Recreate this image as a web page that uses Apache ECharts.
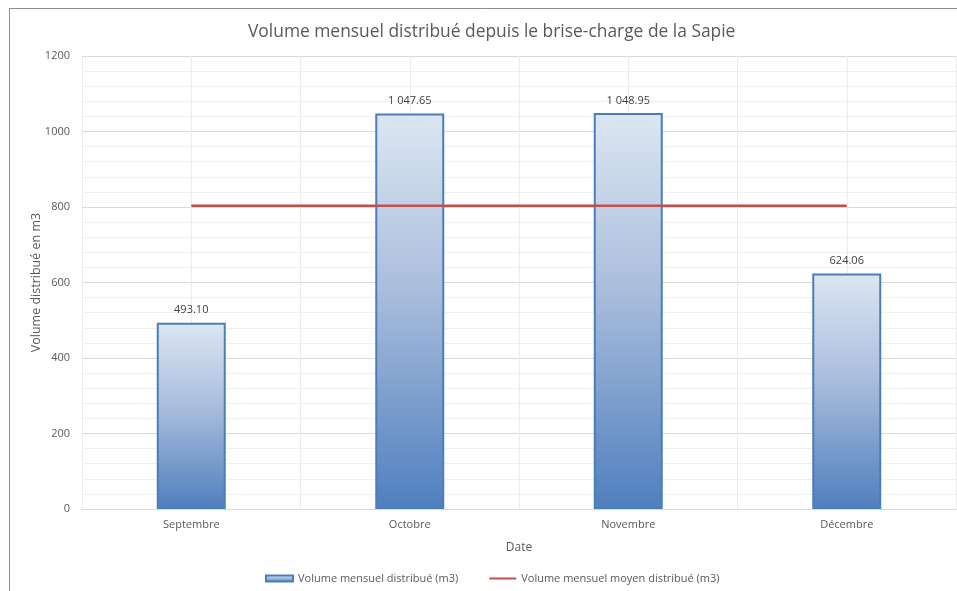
<!DOCTYPE html>
<html>
<head>
<meta charset="utf-8">
<script src="https://cdn.jsdelivr.net/npm/echarts@6/dist/echarts.min.js"></script>
<style>
  html, body { margin: 0; padding: 0; background: #fff; }
  #chart { width: 957px; height: 591px; }
</style>
</head>
<body>
<div id="chart"></div>
<script>
// données
const mois = ["Septembre", "Octobre", "Novembre", "Décembre"];
const volumes = [493.10, 1047.65, 1048.95, 624.06];
const moyenne = [803.44, 803.44, 803.44, 803.44];

const police = "Open Sans";

// format "1 047.65"
function fmt(v) {
  const parts = v.toFixed(2).split(".");
  parts[0] = parts[0].replace(/\B(?=(\d{3})+(?!\d))/g, " ");
  return parts.join(".");
}

const chart = echarts.init(document.getElementById("chart"));
chart.setOption({
  backgroundColor: "#ffffff",
  textStyle: { fontFamily: police, color: "#595959" },
  title: {
    text: "Volume mensuel distribué depuis le brise-charge de la Sapie",
    left: 243,
    top: 19,
    textStyle: { fontFamily: police, fontSize: 17.4, fontWeight: "normal", color: "#595959" }
  },
  graphic: [
    // cadre du graphique (haut et gauche)
    { type: "line", shape: { x1: 9.5, y1: 8.5, x2: 957, y2: 8.5 }, style: { stroke: "#8c8c8c", lineWidth: 1 } },
    { type: "line", shape: { x1: 9.5, y1: 8.5, x2: 9.5, y2: 591 }, style: { stroke: "#8c8c8c", lineWidth: 1 } }
  ],
  grid: { left: 82, right: 1, top: 56, bottom: 82 },
  legend: {
    bottom: 2,
    left: 260,
    itemWidth: 27,
    itemHeight: 6,
    itemGap: 31,
    textStyle: { fontFamily: police, fontSize: 11, color: "#595959" },
    data: [
      { name: "Volume mensuel distribué (m3)", icon: "rect" },
      { name: "Volume mensuel moyen distribué (m3)", icon: "path://M0,0 H27 V2 H0 Z" }
    ]
  },
  xAxis: [
    {
      type: "category",
      data: mois,
      name: "Date",
      nameLocation: "middle",
      nameGap: 33,
      nameTextStyle: { fontFamily: police, fontSize: 12, color: "#595959" },
      axisLine: { lineStyle: { color: "#d9d9d9" } },
      axisTick: { show: false },
      axisLabel: { margin: 10, fontSize: 11, color: "#595959" },
      splitLine: { show: false }
    },
    {
      // axe caché pour les lignes verticales du quadrillage
      type: "value",
      position: "bottom",
      min: 0,
      max: 8,
      interval: 1,
      show: true,
      axisLine: { show: false },
      axisTick: { show: false },
      axisLabel: { show: false },
      splitLine: { show: true, lineStyle: { color: "#ebebeb" } }
    }
  ],
  yAxis: {
    type: "value",
    min: 0,
    max: 1200,
    interval: 200,
    name: "Volume distribué en m3",
    nameLocation: "middle",
    nameGap: 39,
    nameMoveOverlap: false,
    nameTextStyle: { fontFamily: police, fontSize: 12.5, color: "#595959" },
    axisLine: { show: false },
    axisTick: { show: false },
    axisLabel: { margin: 12, fontSize: 11, color: "#595959", formatter: v => String(v) },
    splitLine: { lineStyle: { color: "#d9d9d9" } },
    minorTick: { show: false, splitNumber: 5 },
    minorSplitLine: { show: true, lineStyle: { color: "#f0f0f0" } }
  },
  series: [
    {
      name: "Volume mensuel distribué (m3)",
      type: "bar",
      xAxisIndex: 0,
      data: volumes,
      barWidth: 69,
      itemStyle: {
        color: new echarts.graphic.LinearGradient(0, 0, 0, 1, [
          { offset: 0, color: "#dce6f2" },
          { offset: 0.45, color: "#a9bddc" },
          { offset: 1, color: "#4f7fbe" }
        ]),
        borderColor: "#4a7ebb",
        borderWidth: 2
      },
      label: {
        show: true,
        position: "top",
        distance: 7,
        fontSize: 11,
        color: "#404040",
        formatter: p => fmt(p.value)
      },
      z: 2
    },
    {
      name: "Volume mensuel moyen distribué (m3)",
      type: "line",
      xAxisIndex: 0,
      data: moyenne,
      symbol: "none",
      lineStyle: { color: "#c0504d", width: 2.5 },
      itemStyle: { color: "#c0504d" },
      z: 3
    }
  ]
});
</script>
</body>
</html>
